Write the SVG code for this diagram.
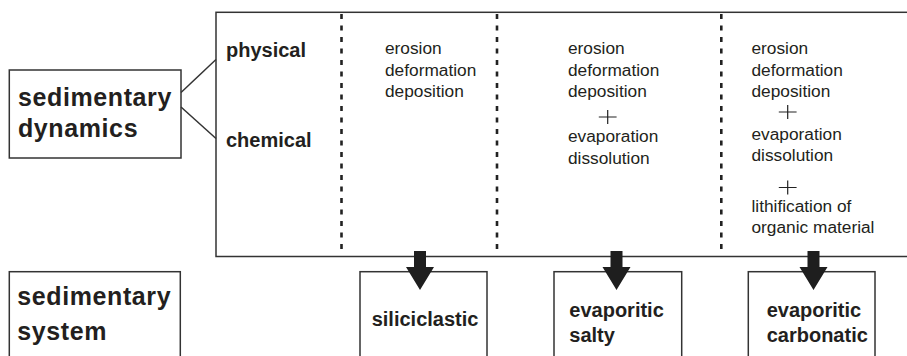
<svg xmlns="http://www.w3.org/2000/svg" width="907" height="356" viewBox="0 0 907 356">
<defs>
<style>
.box{fill:#fff;stroke:#333;stroke-width:1.5}
.line{fill:none;stroke:#333;stroke-width:1.5}
.dash{fill:none;stroke:#222;stroke-width:2.6;stroke-dasharray:5 6.5}
.plus{fill:none;stroke:#222;stroke-width:1.2}
.arrow{fill:#1e1e1e}
.big{font-family:"Liberation Sans",Arial,Helvetica,sans-serif;font-weight:bold;font-size:25px;letter-spacing:0.6px;fill:#231f20}
.lbl{font-family:"Liberation Sans",Arial,Helvetica,sans-serif;font-weight:bold;font-size:20px;fill:#231f20}
.txt{font-family:"Liberation Sans",Arial,Helvetica,sans-serif;font-size:17.3px;fill:#231f20}
</style>
<path id="arr" d="M-6,0 H6 V16 H14 L0,39 L-14,16 H-6 Z"/>
</defs>
<rect width="907" height="356" fill="#fff"/>

<g id="dynamics-panel">
<rect class="box" x="216" y="12.3" width="700" height="244.2"/>
<line class="dash" x1="341.5" y1="14" x2="341.5" y2="253"/>
<line class="dash" x1="497" y1="14" x2="497" y2="253"/>
<line class="dash" x1="721.3" y1="14" x2="721.3" y2="253"/>
</g>

<g id="sedimentary-dynamics">
<rect class="box" x="9.3" y="70" width="171.7" height="88"/>
<text class="big" x="18" y="106">sedimentary</text>
<text class="big" x="18" y="137.3">dynamics</text>
</g>

<g id="physical">
<text class="lbl" x="226" y="56.7">physical</text>
</g>
<g id="chemical">
<text class="lbl" x="226" y="147.3">chemical</text>
</g>

<g id="col1">
<text class="txt" x="385" y="54.3">erosion</text>
<text class="txt" x="385" y="75.7">deformation</text>
<text class="txt" x="385" y="96.5">deposition</text>
</g>

<g id="col2">
<text class="txt" x="568" y="54.3">erosion</text>
<text class="txt" x="568" y="75.7">deformation</text>
<text class="txt" x="568" y="96.5">deposition</text>
<path class="plus" d="M598.8,117 H616.6 M607.7,110 V124"/>
<text class="txt" x="568" y="142">evaporation</text>
<text class="txt" x="568" y="163.5">dissolution</text>
</g>

<g id="col3">
<text class="txt" x="751.5" y="54.3">erosion</text>
<text class="txt" x="751.5" y="75.7">deformation</text>
<text class="txt" x="751.5" y="96.5">deposition</text>
<path class="plus" d="M778.8,112 H796.6 M787.7,105 V119"/>
<text class="txt" x="751.5" y="139.5">evaporation</text>
<text class="txt" x="751.5" y="161">dissolution</text>
<path class="plus" d="M778.8,187.5 H796.6 M787.7,180.5 V194.5"/>
<text class="txt" x="751.5" y="211.5">lithification of</text>
<text class="txt" x="751.5" y="232.5">organic material</text>
</g>

<g id="sedimentary-system">
<rect class="box" x="9.3" y="271.7" width="171" height="100"/>
<text class="big" x="17.3" y="305">sedimentary</text>
<text class="big" x="17.3" y="340">system</text>
</g>

<g id="siliciclastic">
<rect class="box" x="360" y="271.7" width="127" height="100"/>
<text class="lbl" x="371.7" y="326">siliciclastic</text>
</g>

<g id="evaporitic-salty">
<rect class="box" x="554" y="271.7" width="127.7" height="100"/>
<text class="lbl" x="569.3" y="317.3">evaporitic</text>
<text class="lbl" x="569.3" y="341.7">salty</text>
</g>

<g id="evaporitic-carbonatic">
<rect class="box" x="748.3" y="271.7" width="126.7" height="100"/>
<text class="lbl" x="766.7" y="317.3">evaporitic</text>
<text class="lbl" x="766.7" y="341.7">carbonatic</text>
</g>

<g id="connectors">
<line class="line" x1="181" y1="92.5" x2="216" y2="59.5"/>
<line class="line" x1="181" y1="107" x2="216" y2="138.5"/>
<use href="#arr" class="arrow" x="420" y="251"/>
<use href="#arr" class="arrow" x="616.5" y="251"/>
<use href="#arr" class="arrow" x="813.5" y="251"/>
</g>
</svg>
